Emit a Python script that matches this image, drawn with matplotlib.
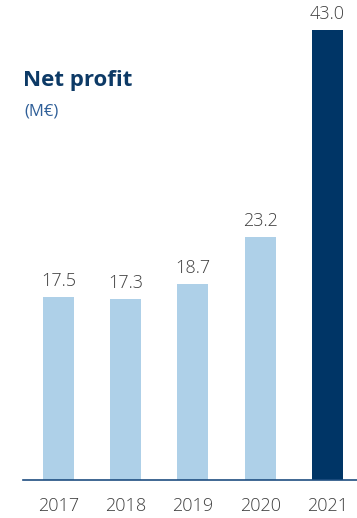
import matplotlib
matplotlib.use("Agg")
import matplotlib.pyplot as plt

years = ["2017", "2018", "2019", "2020", "2021"]
net_profit = [17.5, 17.3, 18.7, 23.2, 43.0]

light_blue = "#aed0e8"
navy = "#003566"
label_grey = "#404040"

plt.rcParams["font.family"] = ["Open Sans", "DejaVu Sans"]

fig = plt.figure(figsize=(3.57, 5.18), dpi=100)
ax = fig.add_axes([23 / 357, 38 / 518, 1 - 23 / 357, 1 - 38 / 518])

colors = [light_blue] * (len(years) - 1) + [navy]
x = list(range(len(years)))
bars = ax.bar(x, net_profit, width=0.46, color=colors, zorder=2)

for xi, v in zip(x, net_profit):
    ax.annotate(f"{v:.1f}", (xi, v), xytext=(0, 5), textcoords="offset points",
                ha="center", va="bottom", fontsize=13, fontweight="light",
                color=label_grey)

ax.set_xlim(-0.528, 4.44)
ax.set_ylim(0, 45.87)
ax.set_xticks(x)
ax.set_xticklabels(years, fontsize=13, fontweight="light", color=label_grey)
ax.tick_params(axis="x", length=0, pad=12)
ax.set_yticks([])

for side in ["top", "right", "left"]:
    ax.spines[side].set_visible(False)
ax.spines["bottom"].set_color("#1f4e80")
ax.spines["bottom"].set_linewidth(1.2)
ax.patch.set_alpha(0)

fig.text(23 / 357, 1 - 86 / 518, "Net profit", fontsize=16, fontweight="bold",
         color="#0d3a66", va="baseline")
fig.text(24 / 357, 1 - 116 / 518, "(M€)", fontsize=12, color="#2f5f98",
         va="baseline")

fig.savefig("out.png", dpi=100)
